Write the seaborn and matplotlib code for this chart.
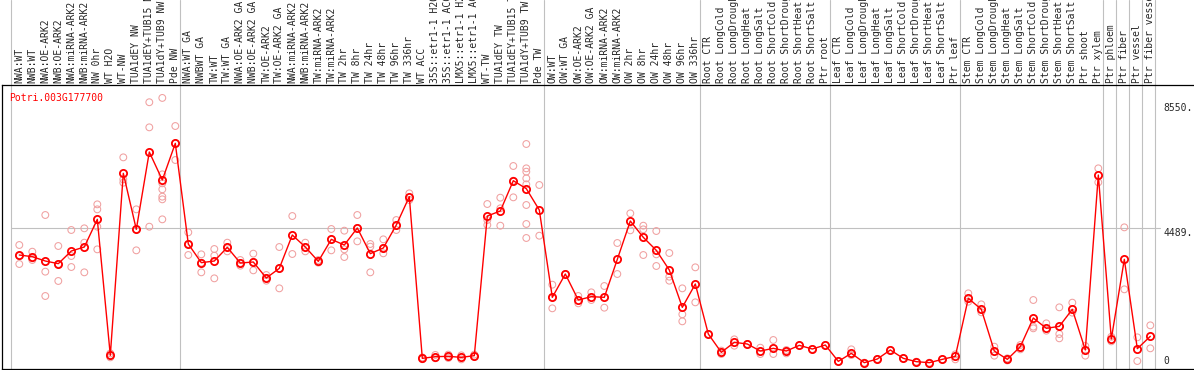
import pandas as pd
import matplotlib.pyplot as plt
import seaborn as sns

# サンプル名（左から順）
categories = [
    "NWA:WT", "NWB:WT", "NWA:OE-ARK2", "NWB:OE-ARK2", "NWA:miRNA-ARK2",
    "NWB:miRNA-ARK2", "NW 0hr", "WT H2O", "WT-NW", "TUA1dEY NW",
    "TUA1dEY+TUB15 NW", "TUA1dY+TUB9 NW", "Pde NW",
    "NWA:WT GA", "NWBWT GA", "TW:WT", "TW:WT GA", "NWA:OE-ARK2 GA",
    "NWB:OE-ARK2 GA", "TW:OE-ARK2", "TW:OE-ARK2 GA", "NWA:miRNA-ARK2",
    "NWB:miRNA-ARK2", "TW:miRNA-ARK2", "TW:miRNA-ARK2", "TW 2hr", "TW 8hr",
    "TW 24hr", "TW 48hr", "TW 96hr", "TW 336hr", "WT ACC",
    "35S::etr1-1 H2O", "35S::etr1-1 ACC", "LMX5::etr1-1 H2O", "LMX5::etr1-1 ACC",
    "WT-TW", "TUA1dEY TW", "TUA1dEY+TUB15 TW", "TUA1dY+TUB9 TW", "Pde TW",
    "OW:WT", "OW:WT GA", "OW:OE-ARK2", "OW:OE-ARK2 GA", "OW:miRNA-ARK2",
    "OW:miRNA-ARK2", "OW 2hr", "OW 8hr", "OW 24hr", "OW 48hr", "OW 96hr",
    "OW 336hr",
    "Root CTR", "Root LongCold", "Root LongDrought", "Root LongHeat",
    "Root LongSalt", "Root ShortCold", "Root ShortDrought", "Root ShortHeat",
    "Root ShortSalt", "Ptr root",
    "Leaf CTR", "Leaf LongCold", "Leaf LongDrought", "Leaf LongHeat",
    "Leaf LongSalt", "Leaf ShortCold", "Leaf ShortDrought", "Leaf ShortHeat",
    "Leaf ShortSalt", "Ptr leaf",
    "Stem CTR", "Stem LongCold", "Stem LongDrought", "Stem LongHeat",
    "Stem LongSalt", "Stem ShortCold", "Stem ShortDrought", "Stem ShortHeat",
    "Stem ShortSalt", "Ptr shoot", "Ptr xylem",
    "Ptr phloem", "Ptr fiber", "Ptr vessel", "Ptr fiber vessel",
]

# 平均値（赤線）
means = [
    3606, 3552, 3411, 3325, 3736, 3866, 4765, 346, 6260, 4440, 6953, 6043, 7234,
    3964, 3357, 3411, 3855, 3346, 3379, 2859, 3173, 4256, 3866, 3400, 4115,
    3931, 4484, 3650, 3834, 4581, 5502, 249, 303, 314, 281, 336,
    4873, 5036, 6021, 5761, 5068,
    2231, 2989, 2144, 2253, 2231, 3465, 4711, 4180, 3758, 3119, 1906, 2664,
    1039, 444, 769, 715, 487, 574, 487, 671, 552, 682,
    151, 411, 108, 227, 520, 249, 141, 108, 216, 314,
    2199, 1841, 487, 216, 628, 1559, 1224, 1289, 1841, 520, 6206,
    877, 3465, 563, 964,
]

# 反復ごとの値（薄い丸）
replicates = [
    [3931, 3573, 3314], [3714, 3498, 3444], [4906, 3065, 2274],
    [3899, 3314, 2762], [4419, 3574, 3216], [4473, 4007, 3043],
    [5252, 5090, 4527, 3790], [410, 346, 281], [6779, 6065, 5956],
    [5090, 4440, 3758], [8570, 7754, 4527],
    [8710, 6227, 5935, 5740, 5502, 5415, 4765], [7797, 7234, 6693],
    [4343, 3964, 3606], [3628, 3357, 3043], [3801, 3585, 2848],
    [4007, 3855, 3725], [3444, 3346, 3260], [3650, 3379, 3108],
    [2956, 2859, 2772], [3866, 3173, 2523], [4873, 3639],
    [4007, 3866, 3725], [3444, 3357], [4451, 4115, 3758],
    [4397, 3790, 3541], [4906, 4484, 4050], [3964, 3877, 3043],
    [4115, 3834, 3661], [4743, 4419], [5610, 5393], [280, 220],
    [360, 250], [370, 260], [346, 216], [370, 300],
    [5263, 4743, 4581], [5469, 5123, 4559], [6498, 6021, 5480],
    [7213, 6422, 6314, 6097, 5902, 5231, 4614, 4159], [5881, 4234],
    [2642, 2231, 1874], [2989], [2274, 2036], [2393, 2144], [2599, 1895],
    [3996, 2989], [4960, 4408], [4559, 4440, 3606], [4386, 3628, 3249],
    [3671, 2902, 2772], [2523, 1679, 1451], [3206, 2068],
    [1039], [500, 390], [866, 660], [715], [595, 390], [845, 390],
    [520, 410], [671], [552], [682],
    [151], [541, 357], [108], [227], [520], [249], [141], [108], [216],
    [379, 216],
    [2361, 2090], [2003, 1744], [628, 336], [250, 180], [682, 541],
    [2144, 1278, 1224], [1386, 1148], [1906, 1039, 899], [2058, 1733],
    [650, 336], [6422, 5967],
    [950, 800], [4505, 2491], [931, 162], [1321, 574],
]

# グループの区切り（各グループ先頭のインデックス）
group_starts = [0, 13, 41, 53, 63, 73, 84, 85, 86, 87, 88]
gene = "Potri.003G177700"
tick_values = [8550, 4489, 0]
tick_labels = ["8550.", "4489.", "0"]

sns.set_style("white")
plt.rcParams["font.family"] = ["DejaVu Sans Mono"]

rep_df = pd.DataFrame(
    [(i, v) for i, vals in enumerate(replicates) for v in vals],
    columns=["cond", "value"],
)
mean_df = pd.DataFrame({"cond": range(len(means)), "value": means})

fig = plt.figure(figsize=(11.94, 3.70), dpi=100)
ax = fig.add_axes([2 / 1194, 1 / 370, 1192 / 1194, 284 / 370])

grey = "#c0c0c0"
pink = "#f0a0a0"

# 反復値
sns.scatterplot(data=rep_df, x="cond", y="value", ax=ax, marker="o", s=24,
                color=pink, linewidth=0.75, legend=False, zorder=3)
pts = ax.collections[-1]
pts.set_facecolor("none")
pts.set_edgecolor(pink)

# 平均値の線
sns.lineplot(data=mean_df, x="cond", y="value", ax=ax, color="red",
             linewidth=1.0, marker="o", markersize=5.2,
             markerfacecolor="none", markeredgecolor="red",
             markeredgewidth=1.3, zorder=4)

ax.set_xlim(-1.331, 90.36)
ax.set_ylim(-97.5, 9130)

# 区切り線
for g in group_starts:
    ax.axvline(g - 0.615, ymin=0, ymax=(284 + 85) / 284, color=grey,
               linewidth=0.8, clip_on=False, zorder=1)
ax.plot([-0.66, 87.75], [4489, 4489], color=grey, linewidth=0.8, zorder=1)

# サンプル名
for i, c in enumerate(categories):
    ax.text(i, 1.0 + 2 / 284, c, transform=ax.get_xaxis_transform(),
            rotation=90, ha="center", va="bottom", fontsize=7, clip_on=False)

# 右側の目盛り
for v, lab in zip(tick_values, tick_labels):
    ax.text(87.98, v, lab, ha="left", va="bottom" if v == 0 else "top",
            fontsize=7)

ax.text(-0.77, 8720, gene, color="red", ha="left", va="center", fontsize=7)

ax.set_xticks([])
ax.set_yticks([])
ax.set_xlabel("")
ax.set_ylabel("")
sns.despine(ax=ax, top=False, right=True, left=False, bottom=False)
for s in ["left", "top", "bottom"]:
    ax.spines[s].set_color("black")
    ax.spines[s].set_linewidth(0.9)

fig.savefig("out.png", dpi=100)
